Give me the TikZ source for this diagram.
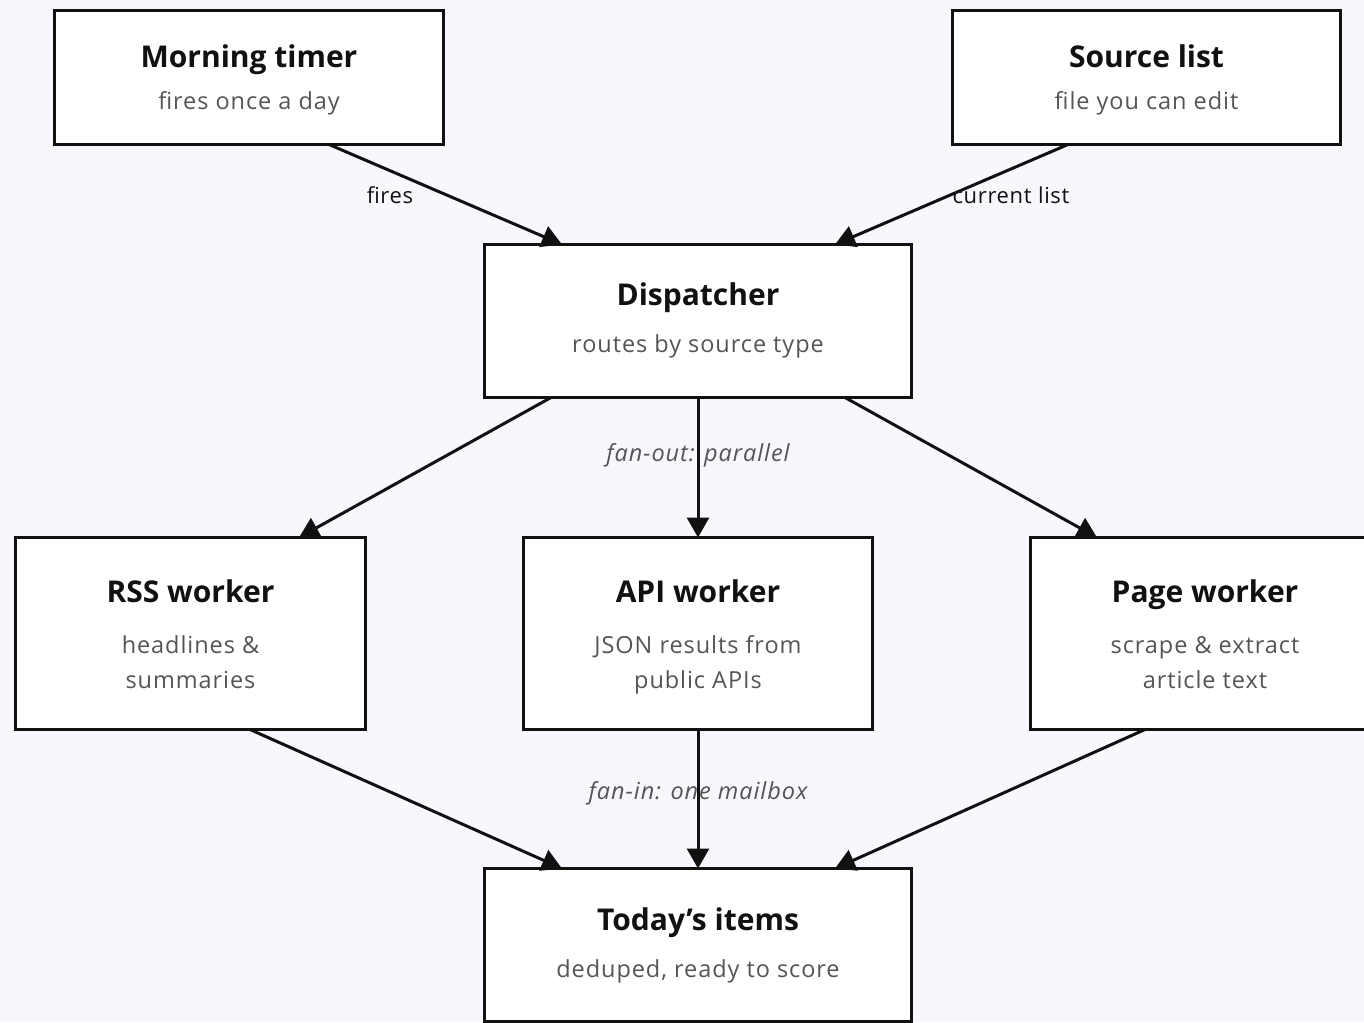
\documentclass[tikz,border=0pt]{standalone}
\usepackage{fontspec}
\setmainfont{Open Sans}
\newfontfamily\subf[LetterSpace=4]{Open Sans}
\newfontfamily\labf[LetterSpace=3]{Open Sans}
\usetikzlibrary{arrows.meta,calc}
\definecolor{bg}{HTML}{F8F7FE}
\definecolor{ink}{HTML}{111111}
\definecolor{subc}{HTML}{555555}
\tikzset{
  box/.style={draw=ink, line width=3pt, fill=white, inner sep=0pt, outer sep=0pt},
  ttl/.style={anchor=base, text=ink, font=\fontsize{30}{35}\selectfont\bfseries, inner sep=0pt},
  sub/.style={anchor=base, text=subc, font=\subf\fontsize{23.5}{28}\selectfont, inner sep=0pt},
  elab/.style={anchor=base, text=ink, font=\labf\fontsize{22}{26}\selectfont, inner sep=0pt},
  ilab/.style={anchor=base, text=subc, font=\subf\fontsize{23.5}{28}\selectfont\itshape, inner sep=0pt},
  conn/.style={draw=ink, line width=3pt, -{Triangle[length=20pt,width=22pt]}},
}
\begin{document}
\begin{tikzpicture}[x=1pt,y=-1pt]
\useasboundingbox (0,0) rectangle (1364,1022);
\clip (0,0) rectangle (1364,1022);
\fill[bg] (0,0) rectangle (1364,1022);

% boxes
\node[box, minimum width=389pt, minimum height=134pt] (mt) at (249,77.5) {};
\node[box, minimum width=388pt, minimum height=134pt] (sl) at (1146.5,77.5) {};
\node[box, minimum width=427pt, minimum height=153pt] (dp) at (698,321) {};
\node[box, minimum width=350pt, minimum height=192pt] (rss) at (190.5,633.5) {};
\node[box, minimum width=349pt, minimum height=192pt] (api) at (698,633.5) {};
\node[box, minimum width=349pt, minimum height=192pt] (pg) at (1205,633.5) {};
\node[box, minimum width=427pt, minimum height=153pt] (td) at (698,945) {};

% texts
\node[ttl] (mtt) at (249,68) {Morning timer};
\node[sub] (mts) at (249,110) {fires once a day};
\node[ttl] (slt) at (1146.5,68) {Source list};
\node[sub] (sls) at (1146.5,110) {file you can edit};
\node[ttl] (dpt) at (698,305) {Dispatcher};
\node[sub] (dps) at (698,352) {routes by source type};
\node[ttl] (rsst) at (190.5,602) {RSS worker};
\node[sub] (rss1) at (190.5,653) {headlines \&};
\node[sub] (rss2) at (190.5,688) {summaries};
\node[ttl] (apit) at (698,602) {API worker};
\node[sub] (api1) at (698,653) {JSON results from};
\node[sub] (api2) at (698,688) {public APIs};
\node[ttl] (pgt) at (1205,602) {Page worker};
\node[sub] (pg1) at (1205,653) {scrape \& extract};
\node[sub] (pg2) at (1205,688) {article text};
\node[ttl] (tdt) at (698,930) {Today’s items};
\node[sub] (tds) at (698,977) {deduped, ready to score};

% edge labels
\node[elab] (l1) at (390,203) {fires};
\node[elab] (l2) at (1011,203) {current list};
\node[ilab] (l3) at (698,461) {fan-out: parallel};
\node[ilab] (l4) at (698,799) {fan-in: one mailbox};

% connectors
\draw[conn] ($(mt.south)+(80,0)$) -- ($(dp.north)+(-136,0)$);
\draw[conn] ($(sl.south)+(-78.5,0)$) -- ($(dp.north)+(137,0)$);
\draw[conn] ($(dp.south)+(-147,0)$) -- ($(rss.north)+(108.5,0)$);
\draw[conn] (dp.south) -- (api.north);
\draw[conn] ($(dp.south)+(147,0)$) -- ($(pg.north)+(-108,0)$);
\draw[conn] ($(rss.south)+(59.5,0)$) -- ($(td.north)+(-136,0)$);
\draw[conn] (api.south) -- (td.north);
\draw[conn] ($(pg.south)+(-60,0)$) -- ($(td.north)+(137,0)$);
\end{tikzpicture}
\end{document}
